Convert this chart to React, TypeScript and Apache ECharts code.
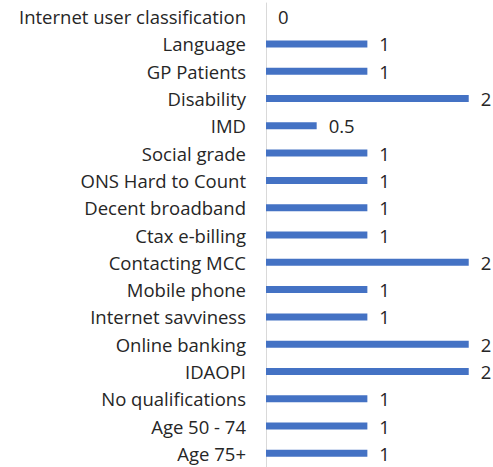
import React, { useEffect, useRef } from "react";
import * as echarts from "echarts";

const categories = [
  "Internet user classification",
  "Language",
  "GP Patients",
  "Disability",
  "IMD",
  "Social grade",
  "ONS Hard to Count",
  "Decent broadband",
  "Ctax e-billing",
  "Contacting MCC",
  "Mobile phone",
  "Internet savviness",
  "Online banking",
  "IDAOPI",
  "No qualifications",
  "Age 50 - 74",
  "Age 75+",
];
const values = [0, 1, 1, 2, 0.5, 1, 1, 1, 1, 2, 1, 1, 2, 2, 1, 1, 1];

export default function App() {
  const ref = useRef<HTMLDivElement>(null);
  useEffect(() => {
    if (!ref.current) return;
    const chart = echarts.init(ref.current, null, { renderer: "svg" });
    chart.setOption({
      animation: false,
      backgroundColor: "#ffffff",
      grid: { left: 266, right: 4, top: 3, height: 466, containLabel: false },
      xAxis: {
        type: "value",
        min: 0,
        max: 2.2,
        show: false,
      },
      yAxis: {
        type: "category",
        inverse: true,
        data: categories,
        axisLine: { show: true, lineStyle: { color: "#d9d9d9", width: 1 } },
        axisTick: { show: false },
        splitLine: { show: false },
        axisLabel: {
          margin: 20,
          color: "#262626",
          fontSize: 18.5,
          fontFamily: "Open Sans",
        },
      },
      series: [
        {
          type: "bar",
          data: values,
          barWidth: 7,
          itemStyle: { color: "#4472c4" },
          label: {
            show: true,
            position: "right",
            distance: 12,
            color: "#262626",
            fontSize: 18.5,
            fontFamily: "Open Sans",
          },
        },
      ],
    });
    return () => chart.dispose();
  }, []);
  return (
    <div
      ref={ref}
      style={{ position: "fixed", left: 0, top: 0, width: 493, height: 467 }}
    />
  );
}
